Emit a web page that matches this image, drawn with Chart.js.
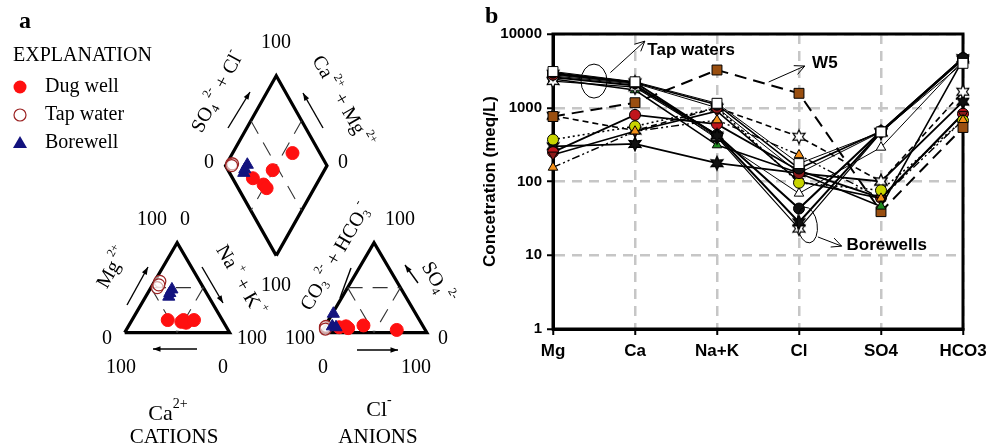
<!DOCTYPE html>
<html>
<head>
<meta charset="utf-8">
<script src="https://cdn.jsdelivr.net/npm/chart.js"></script>
<style>
  body { margin: 0; background: #fff; }
  #wrap { position: relative; width: 1000px; height: 447px; overflow: hidden; }
  #piper { position: absolute; left: 0; top: 0; }
  #schoeller { position: absolute; left: 480px; top: 0; }
</style>
</head>
<body>
<div id="wrap">
  <canvas id="piper" width="480" height="447"></canvas>
  <canvas id="schoeller" width="520" height="447"></canvas>
</div>
<script>
// ---- Piper data (% meq) ----
const dugCa   = [52, 40, 36, 37, 27];
const dugMg   = [14, 12, 11, 14, 14];
const dugNaK  = [34, 48, 53, 49, 59];
const dugHCO3 = [80, 73, 72, 56, 27];
const dugSO4  = [6, 7, 5, 8, 3];
const dugCl   = [14, 20, 23, 36, 70];

const tapCa   = [38, 44, 41];
const tapMg   = [57, 50, 53];
const tapNaK  = [5, 6, 6];
const tapHCO3 = [93, 92, 94];
const tapSO4  = [6, 7, 4];
const tapCl   = [1, 1, 2];

const boreCa   = [31, 38, 35];
const boreMg   = [48, 40, 44];
const boreNaK  = [21, 22, 21];
const boreHCO3 = [78, 86, 83];
const boreSO4  = [21, 7, 6];
const boreCl   = [1, 7, 11];

// ---- Schoeller data (meq/L) ----
const ions = ['Mg', 'Ca', 'Na+K', 'Cl', 'SO4', 'HCO3'];
const tap1  = [3100, 2250, 1150, 175, 470, 4000];
const tap2  = [3000, 2200, 1100, 150, 480, 4700];
const tap3  = [2800, 2150, 1000, 130, 470, 4600];
const bore1 = [2900, 2200, 420, 28, 470, 4700];
const bore2 = [2300, 1900, 400, 23, 460, 4500];
const bore3 = [2600, 2000, 430, 43, 480, 4700];
const well1 = [2700, 2100, 380, 69, 290, 4400];
const well2 = [2450, 1740, 312, 130, 46, 4500];
const w5    = [760, 1170, 3250, 1570, 39, 540];
const well4 = [155, 480, 680, 229, 59, 680];
const well5 = [370, 560, 1000, 96, 76, 670];
const well6 = [230, 480, 900, 100, 59, 820];
const well7 = [250, 800, 600, 140, 60, 830];
const well8 = [780, 490, 1000, 405, 100, 1650];
const well9 = [300, 323, 177, 130, 100, 1210];

// ---------------- Piper panel ----------------
const geo = {
  cat: { x0: 120.7, x1: 229.3, base: 336.7, h: 93.4 },
  ani: { x0: 324, x1: 433.3, base: 336.7, h: 93.4 },
  dia: { cx: 277.5, left: 225, right: 330, mid: 163.5, half: 93.3 }
};

function catXY(mg, nak) {
  const g = geo.cat, s = g.x1 - g.x0;
  return { x: g.x0 + s * (nak + mg / 2) / 100, y: g.base - g.h * mg / 100 };
}
function aniXY(so4, cl) {
  const g = geo.ani, s = g.x1 - g.x0;
  return { x: g.x0 + s * (cl + so4 / 2) / 100, y: g.base - g.h * so4 / 100 };
}
function diaXY(camg, so4cl) {
  const d = geo.dia, c = camg / 100, a = so4cl / 100;
  return {
    x: d.cx + (d.left - d.cx) * c + (d.right - d.cx) * a,
    y: d.mid + d.half - d.half * (c + a)
  };
}
function piperPoints(ca, mg, nak, hco3, so4, cl) {
  const pts = [];
  for (let i = 0; i < ca.length; i++) {
    pts.push(catXY(mg[i], nak[i]));
    pts.push(aniXY(so4[i], cl[i]));
    pts.push(diaXY(ca[i] + mg[i], so4[i] + cl[i]));
  }
  return pts;
}

function mid(a, b) { return { x: (a.x + b.x) / 2, y: (a.y + b.y) / 2 }; }

const cL = catXY(0, 0), cR = catXY(0, 100), cT = catXY(100, 0);
const aL = aniXY(0, 0), aR = aniXY(0, 100), aT = aniXY(100, 0);
const dB = diaXY(0, 0), dLv = diaXY(100, 0), dRv = diaXY(0, 100), dT = diaXY(100, 100);

const frameSets = [[cL, cR, cT, cL], [aL, aR, aT, aL], [dB, dLv, dT, dRv, dB]].map(pts => ({
  data: pts, showLine: true, borderColor: '#000', borderWidth: 3.2, pointRadius: 0, order: 5
}));
const innerSegs = [
  [mid(cL, cT), mid(cR, cT)], [mid(cL, cT), mid(cL, cR)], [mid(cR, cT), mid(cL, cR)],
  [mid(aL, aT), mid(aR, aT)], [mid(aL, aT), mid(aL, aR)], [mid(aR, aT), mid(aL, aR)],
  [mid(dLv, dT), mid(dB, dRv)], [mid(dT, dRv), mid(dB, dLv)]
];
const innerSets = innerSegs.map(seg => ({
  data: seg, showLine: true, borderColor: '#333', borderWidth: 1.1, borderDash: [15, 10],
  pointRadius: 0, order: 4
}));

function rich(ctx, parts, x, y, angle, size, align) {
  ctx.save();
  ctx.translate(x, y);
  ctx.rotate(angle * Math.PI / 180);
  const fN = size + 'px "Liberation Serif"';
  const fS = Math.round(size * 0.62) + 'px "Liberation Serif"';
  let total = 0;
  parts.forEach(p => { ctx.font = p[1] === 'n' ? fN : fS; total += ctx.measureText(p[0]).width; });
  let cx = align === 'left' ? 0 : -total / 2;
  ctx.textBaseline = 'middle';
  ctx.textAlign = 'left';
  ctx.fillStyle = '#000';
  parts.forEach(p => {
    ctx.font = p[1] === 'n' ? fN : fS;
    const dy = p[1] === 'sup' ? -size * 0.42 : p[1] === 'sub' ? size * 0.3 : 0;
    ctx.fillText(p[0], cx, dy);
    cx += ctx.measureText(p[0]).width;
  });
  ctx.restore();
}

function arrowA(ctx, x1, y1, x2, y2, head) {
  ctx.save();
  ctx.strokeStyle = '#000';
  ctx.fillStyle = '#000';
  ctx.lineWidth = 1.4;
  ctx.beginPath(); ctx.moveTo(x1, y1); ctx.lineTo(x2, y2); ctx.stroke();
  if (head) {
    const ang = Math.atan2(y2 - y1, x2 - x1);
    ctx.beginPath();
    ctx.moveTo(x2, y2);
    ctx.lineTo(x2 - 8 * Math.cos(ang - 0.35), y2 - 8 * Math.sin(ang - 0.35));
    ctx.lineTo(x2 - 8 * Math.cos(ang + 0.35), y2 - 8 * Math.sin(ang + 0.35));
    ctx.closePath(); ctx.fill();
  }
  ctx.restore();
}

const piperText = {
  id: 'piperText',
  afterDraw(chart) {
    const ctx = chart.ctx;
    ctx.save();
    ctx.fillStyle = '#000';
    ctx.textBaseline = 'middle';
    ctx.font = 'bold 24px "Liberation Serif"';
    ctx.textAlign = 'left';
    ctx.fillText('a', 19, 22);

    // explanation
    ctx.font = '20px "Liberation Serif"';
    ctx.fillText('EXPLANATION', 13, 56);
    ctx.fillText('Dug well', 45, 87);
    ctx.fillText('Tap water', 45, 115);
    ctx.fillText('Borewell', 45, 143);
    ctx.fillStyle = '#ff1010';
    ctx.beginPath(); ctx.arc(20, 87, 6.5, 0, Math.PI * 2); ctx.fill();
    ctx.strokeStyle = '#9b2222'; ctx.fillStyle = '#fff'; ctx.lineWidth = 1.2;
    ctx.beginPath(); ctx.arc(20, 115, 6, 0, Math.PI * 2); ctx.fill(); ctx.stroke();
    ctx.fillStyle = '#13137e';
    ctx.beginPath(); ctx.moveTo(20, 136); ctx.lineTo(27, 148); ctx.lineTo(13, 148); ctx.closePath(); ctx.fill();

    // scale numbers
    ctx.fillStyle = '#000';
    ctx.font = '20px "Liberation Serif"';
    ctx.textAlign = 'center';
    [['100', 276, 43], ['0', 209, 163], ['0', 343, 163],
     ['100', 152, 220], ['0', 185, 220], ['0', 107, 339], ['100', 252, 339],
     ['100', 121, 368], ['0', 223, 368], ['100', 276, 286],
     ['100', 300, 339], ['0', 443, 339], ['0', 323, 368], ['100', 416, 368],
     ['100', 400, 220]].forEach(t => ctx.fillText(t[0], t[1], t[2]));
    ctx.restore();

    // axis names
    rich(ctx, [['SO', 'n'], ['4', 'sub'], [' 2-', 'sup'], [' + Cl', 'n'], ['-', 'sup']], 218, 92, -62, 20);
    rich(ctx, [['Ca', 'n'], [' 2+', 'sup'], [' + Mg', 'n'], [' 2+', 'sup']], 342, 102, 60, 20);
    rich(ctx, [['Mg', 'n'], [' 2+', 'sup']], 113, 268, -60, 20);
    rich(ctx, [['Na', 'n'], [' +', 'sup'], [' + K', 'n'], [' +', 'sup']], 240, 281, 60, 20);
    rich(ctx, [['CO', 'n'], ['3', 'sub'], [' 2-', 'sup'], [' + HCO', 'n'], ['3', 'sub'], ['-', 'sup']], 336, 257, -60, 20);
    rich(ctx, [['SO', 'n'], ['4', 'sub'], [' 2-', 'sup']], 437, 283, 60, 20);
    rich(ctx, [['Ca', 'n'], ['2+', 'sup']], 168, 414, 0, 22);
    rich(ctx, [['Cl', 'n'], ['-', 'sup']], 379, 410, 0, 22);
    rich(ctx, [['CATIONS', 'n']], 174, 437, 0, 21);
    rich(ctx, [['ANIONS', 'n']], 378, 437, 0, 21);

    // arrows
    arrowA(ctx, 228, 128, 250, 92, true);
    arrowA(ctx, 323, 128, 303, 93, true);
    arrowA(ctx, 127, 305, 148, 267, true);
    arrowA(ctx, 202, 267, 223, 303, true);
    arrowA(ctx, 197, 349, 153, 349, true);
    arrowA(ctx, 340, 298, 351, 268, false);
    arrowA(ctx, 418, 283, 405, 265, true);
    arrowA(ctx, 357, 350, 398, 350, true);
  }
};

new Chart(document.getElementById('piper'), {
  type: 'scatter',
  data: {
    datasets: [
      { label: 'Dug well', data: piperPoints(dugCa, dugMg, dugNaK, dugHCO3, dugSO4, dugCl),
        pointStyle: 'circle', pointRadius: 6.5, pointBackgroundColor: '#ff1010', pointBorderColor: '#ff1010', order: 1 },
      { label: 'Tap water', data: piperPoints(tapCa, tapMg, tapNaK, tapHCO3, tapSO4, tapCl),
        pointStyle: 'circle', pointRadius: 6, pointBackgroundColor: 'rgba(255,255,255,0.6)', pointBorderColor: '#9b2222', pointBorderWidth: 1.2, order: 2 },
      { label: 'Borewell', data: piperPoints(boreCa, boreMg, boreNaK, boreHCO3, boreSO4, boreCl),
        pointStyle: 'triangle', pointRadius: 7, pointBackgroundColor: '#13137e', pointBorderColor: '#13137e', order: 0 },
      ...frameSets,
      ...innerSets
    ]
  },
  options: {
    responsive: false,
    animation: false,
    devicePixelRatio: 1,
    layout: { padding: 0 },
    plugins: { legend: { display: false }, tooltip: { enabled: false } },
    scales: {
      x: { type: 'linear', min: 0, max: 480, display: false },
      y: { type: 'linear', min: 0, max: 447, reverse: true, display: false }
    }
  },
  plugins: [piperText]
});

// ---------------- Schoeller panel ----------------
function makeStar(fill, r) {
  const c = document.createElement('canvas');
  c.width = c.height = Math.ceil(r * 2 + 4);
  const g = c.getContext('2d');
  const cx = c.width / 2, cy = c.height / 2;
  g.beginPath();
  for (let i = 0; i < 12; i++) {
    const rad = i % 2 === 0 ? r : r * 0.5;
    const a = -Math.PI / 2 + i * Math.PI / 6;
    g.lineTo(cx + rad * Math.cos(a), cy + rad * Math.sin(a));
  }
  g.closePath();
  g.fillStyle = fill; g.fill();
  g.strokeStyle = '#000'; g.lineWidth = 1.2; g.stroke();
  return c;
}
const starBlack = makeStar('#111', 7);
const starWhite = makeStar('#fff', 7);

const series = [
  { data: tap1,  marker: 'rect',     fill: '#fff',    width: 1 },
  { data: tap2,  marker: 'circle',   fill: '#111',    width: 1.6 },
  { data: tap3,  marker: 'circle',   fill: '#8b1a1a', width: 1 },
  { data: bore1, marker: starBlack,  fill: '#111',    width: 2 },
  { data: bore2, marker: starWhite,  fill: '#fff',    width: 1.2 },
  { data: bore3, marker: 'circle',   fill: '#111',    width: 2 },
  { data: well1, marker: 'triangle', fill: '#fff',    width: 1 },
  { data: well2, marker: 'triangle', fill: '#1f8a1f', width: 1.6 },
  { data: w5,    marker: 'rect',     fill: '#9a4f10', width: 2, dash: [12, 7] },
  { data: well4, marker: 'triangle', fill: '#f39019', width: 1.4, dash: [8, 3, 2, 3, 2, 3] },
  { data: well5, marker: 'circle',   fill: '#c8d400', width: 1.6, dash: [2, 3] },
  { data: well6, marker: 'triangle', fill: '#8b1a1a', width: 1.6, rot: 180 },
  { data: well7, marker: 'circle',   fill: '#c0161c', width: 1.8 },
  { data: well8, marker: starWhite,  fill: '#fff',    width: 1.6, dash: [6, 4] },
  { data: well9, marker: starBlack,  fill: '#111',    width: 1.8 }
];

function arrowB(ctx, x1, y1, x2, y2) {
  ctx.beginPath(); ctx.moveTo(x1, y1); ctx.lineTo(x2, y2); ctx.stroke();
  const ang = Math.atan2(y2 - y1, x2 - x1);
  ctx.beginPath();
  ctx.moveTo(x2 - 11 * Math.cos(ang - 0.45), y2 - 11 * Math.sin(ang - 0.45));
  ctx.lineTo(x2, y2);
  ctx.lineTo(x2 - 11 * Math.cos(ang + 0.45), y2 - 11 * Math.sin(ang + 0.45));
  ctx.stroke();
}

const schoellerDeco = {
  id: 'schoellerDeco',
  beforeDatasetsDraw(chart) {
    const { ctx, chartArea: a } = chart;
    ctx.save();
    ctx.strokeStyle = '#000';
    ctx.lineWidth = 3;
    ctx.strokeRect(a.left, a.top, a.right - a.left, a.bottom - a.top);
    ctx.restore();
  },
  afterDraw(chart) {
    const ctx = chart.ctx, xs = chart.scales.x, ys = chart.scales.y;
    const P = (i, v) => [xs.getPixelForValue(i), ys.getPixelForValue(v)];
    ctx.save();
    ctx.fillStyle = '#000';
    ctx.textBaseline = 'middle';
    ctx.font = 'bold 24px "Liberation Serif"';
    ctx.fillText('b', 5, 17);

    ctx.strokeStyle = '#000';
    ctx.lineWidth = 1;
    // tap waters
    let e = P(0.5, 2300);
    ctx.beginPath(); ctx.ellipse(e[0], e[1], 13, 17, 0, 0, Math.PI * 2); ctx.stroke();
    let s = P(0.7, 3000), t = P(1.12, 8000);
    arrowB(ctx, s[0], s[1], t[0], t[1]);
    ctx.font = 'bold 17px "Liberation Sans"';
    let l = P(1.15, 6000);
    ctx.fillText('Tap waters', l[0], l[1]);
    // W5
    s = P(2.63, 2234); t = P(3.07, 3680);
    arrowB(ctx, s[0], s[1], t[0], t[1]);
    l = P(3.16, 4045);
    ctx.fillText('W5', l[0], l[1]);
    // borewells
    e = P(3.1, 25.7);
    ctx.beginPath(); ctx.ellipse(e[0], e[1], 10, 18, -0.15, 0, Math.PI * 2); ctx.stroke();
    s = P(3.23, 17.7); t = P(3.52, 13.3);
    arrowB(ctx, s[0], s[1], t[0], t[1]);
    l = P(3.58, 13.8);
    ctx.fillText('Borewells', l[0], l[1]);
    ctx.restore();
  }
};

const gridCol = '#c6c6c6';
new Chart(document.getElementById('schoeller'), {
  type: 'line',
  data: {
    labels: ions,
    datasets: series.map(sr => ({
      data: sr.data,
      borderColor: '#000',
      borderWidth: sr.width,
      borderDash: sr.dash || [],
      pointStyle: sr.marker,
      pointRotation: sr.rot || 0,
      pointRadius: sr.marker === 'rect' ? 7 : 5.5,
      pointBackgroundColor: sr.fill,
      pointBorderColor: '#000',
      pointBorderWidth: 1,
      tension: 0,
      fill: false
    }))
  },
  options: {
    responsive: false,
    animation: false,
    devicePixelRatio: 1,
    layout: { padding: { left: 0, right: 37, top: 34, bottom: 78 } },
    plugins: { legend: { display: false }, tooltip: { enabled: false } },
    scales: {
      x: {
        offset: false,
        grid: { color: gridCol, lineWidth: 2.5, borderDash: [10, 7], tickColor: '#000', tickLength: 6, tickWidth: 2 },
        border: { display: true, color: '#000', width: 3, dash: [10, 7] },
        ticks: { color: '#000', padding: 6, maxRotation: 0, autoSkip: false,
                 font: { family: 'Liberation Sans', size: 17, weight: 'bold' } },
        afterFit: sc => { sc.height = 40; }
      },
      y: {
        type: 'logarithmic',
        min: 1,
        max: 10000,
        grid: { color: gridCol, lineWidth: 2.5, borderDash: [10, 7], tickColor: '#000', tickLength: 6, tickWidth: 2 },
        border: { display: true, color: '#000', width: 3, dash: [10, 7] },
        afterBuildTicks: sc => { sc.ticks = [1, 10, 100, 1000, 10000].map(v => ({ value: v })); },
        ticks: { color: '#000', padding: 5, callback: v => String(v),
                 font: { family: 'Liberation Sans', size: 15, weight: 'bold' } },
        title: { display: true, text: 'Concetration (meq/L)', color: '#000', padding: 0,
                 font: { family: 'Liberation Sans', size: 17, weight: 'bold' } },
        afterFit: sc => { sc.width = 73; }
      }
    }
  },
  plugins: [schoellerDeco]
});
</script>
</body>
</html>
